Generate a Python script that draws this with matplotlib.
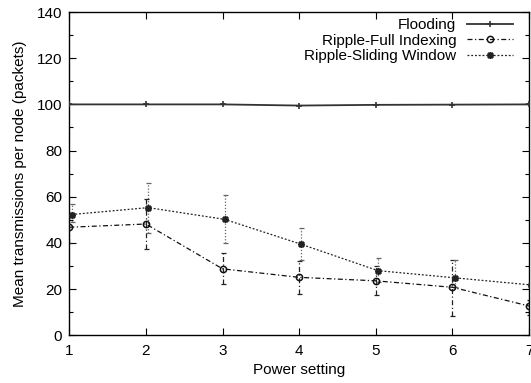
import matplotlib
matplotlib.use("Agg")
import matplotlib.pyplot as plt
from matplotlib.ticker import MultipleLocator

plt.rcParams['font.family'] = ['Liberation Sans', 'DejaVu Sans']
plt.rcParams['font.size'] = 11

power = [1, 2, 3, 4, 5, 6, 7]
flooding = [100.0, 100.0, 100.0, 99.5, 99.8, 99.9, 100.0]

full_idx = [46.8, 48.2, 28.8, 25.1, 23.6, 20.8, 12.7]
full_lo = [39.8, 37.4, 22.2, 17.9, 17.3, 8.4, 8.8]
full_hi = [53.0, 58.9, 35.8, 32.0, 30.0, 32.6, 15.3]

sliding = [52.3, 55.3, 50.2, 39.4, 28.0, 24.9, 21.8]
slid_lo = [49.0, 44.3, 39.8, 32.6, 23.0, 21.0, 17.5]
slid_hi = [56.9, 65.8, 60.8, 46.3, 33.3, 32.6, 27.5]

fig = plt.figure(figsize=(5.31, 3.83), dpi=100)
ax = fig.add_axes([0.1305, 0.1245, 0.8657, 0.8441])

sw_x = [p + 0.03 for p in power]

# error bars
e1 = ax.errorbar(power, full_idx,
                 yerr=[[v - l for v, l in zip(full_idx, full_lo)],
                       [h - v for v, h in zip(full_idx, full_hi)]],
                 fmt='none', ecolor='#222222', elinewidth=0.9, capsize=1.8,
                 capthick=0.9, zorder=2)
e1[2][0].set_linestyle((0, (4, 2, 1, 2)))
e2 = ax.errorbar(sw_x, sliding,
                 yerr=[[v - l for v, l in zip(sliding, slid_lo)],
                       [h - v for v, h in zip(sliding, slid_hi)]],
                 fmt='none', ecolor='#666666', elinewidth=0.9, capsize=1.8,
                 capthick=0.9, zorder=2)
e2[2][0].set_linestyle((0, (1, 1.5)))

ax.plot(power, flooding, color='#333333', lw=1.3, marker='+', ms=5,
        mew=1.2, label='Flooding', zorder=3)
ax.plot(power, full_idx, color='#111111', lw=0.9,
        ls=(0, (4, 2, 1, 2)), marker='o', ms=4.5, mfc='none', mew=1.1,
        label='Ripple-Full Indexing', zorder=3)
ax.plot(sw_x, sliding, color='#222222', lw=0.9, ls=(0, (1.5, 1.5)),
        marker=(8, 2, 0), ms=5, mew=1.2, label='Ripple-Sliding Window',
        zorder=3)

ax.set_xlim(1, 7)
ax.set_ylim(0, 140)
ax.xaxis.set_major_locator(MultipleLocator(1))
ax.yaxis.set_major_locator(MultipleLocator(20))
ax.yaxis.set_minor_locator(MultipleLocator(10))
ax.tick_params(which='both', direction='in', top=True, right=True,
               labelsize=11)
ax.tick_params(axis='x', which='both', pad=6)
ax.tick_params(axis='y', which='both', pad=5)
ax.tick_params(which='major', length=5, width=0.8)
ax.tick_params(which='minor', length=3, width=0.8)
for s in ax.spines.values():
    s.set_linewidth(1.0)

ax.set_xlabel('Power setting', fontsize=11, labelpad=4)
ax.set_ylabel('Mean transmissions per node (packets)', fontsize=11, labelpad=7)

ax.legend(loc='upper right', bbox_to_anchor=(513 / 531, 1 - 18 / 383),
          bbox_transform=fig.transFigure, frameon=False, markerfirst=False,
          handlelength=3.0, handletextpad=0.7, labelspacing=0.1,
          borderpad=0, borderaxespad=0, fontsize=11)

fig.savefig('out.png', dpi=100)
